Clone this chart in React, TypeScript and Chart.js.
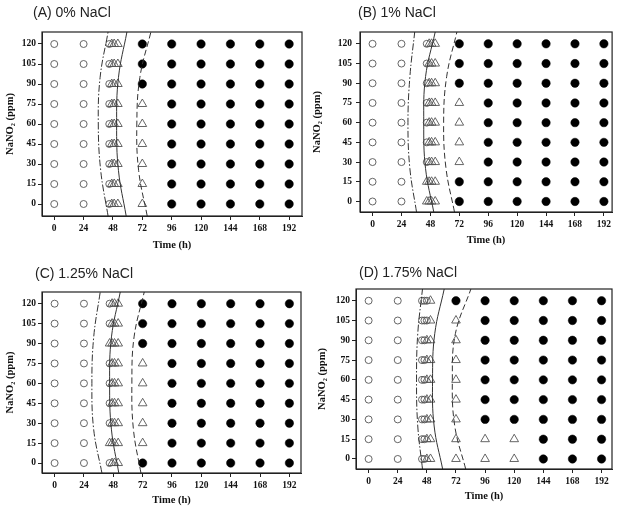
import React, { useEffect, useRef } from "react";
import { Chart, registerables } from "chart.js";

Chart.register(...registerables);

// ---- shared axis values ----
const timeTicks = [0, 24, 48, 72, 96, 120, 144, 168, 192];
const concLevels = [0, 15, 30, 45, 60, 75, 90, 105, 120];

// ---- sampling times (h) per panel ----
const timesA = [0, 24, 45, 47, 49, 52, 72, 96, 120, 144, 168, 192];
const timesB = [0, 24, 45, 47, 49, 52, 72, 96, 120, 144, 168, 192];
const timesC = [0, 24, 45, 47, 49, 52, 72, 96, 120, 144, 168, 192];
const timesD = [0, 24, 44, 46, 48, 51, 72, 96, 120, 144, 168, 192];

// ---- status grids: one string per NaNO2 level (0..120), one char per sampling time
// o = open circle, t = open triangle, f = filled circle
const statusA = [
  "ooottttfffff", "ooottttfffff", "ooottttfffff", "ooottttfffff", "ooottttfffff",
  "ooottttfffff", "oootttffffff", "oootttffffff", "oootttffffff",
];
const statusB = [
  "oottttffffff", "oottttffffff", "ooottttfffff", "ooottttfffff", "ooottttfffff",
  "ooottttfffff", "oootttffffff", "oootttffffff", "oootttffffff",
];
const statusC = [
  "oootttffffff", "ootttttfffff", "ooottttfffff", "ooottttfffff", "ooottttfffff",
  "ooottttfffff", "oottttffffff", "oootttffffff", "oootttffffff",
];
const statusD = [
  "ooootttttfff", "ooootttttfff", "ooootttfffff", "ooootttfffff", "ooootttfffff",
  "ooootttfffff", "ooootttfffff", "ooooottfffff", "oooootffffff",
];

// ---- boundary curves (x in h, at the given NaNO2 levels) ----
const curveYA = [-9, 25, 60, 95, 129];
const dashDotA = [44, 38, 36, 37.5, 44];
const solidA = [58.8, 52.5, 51, 52.5, 59.4];
const dashedA = [76, 69, 67.5, 70, 79];

const curveYB = [-8, 25, 60, 95, 129];
const dashDotB = [36.5, 31, 29.4, 31, 35];
const solidB = [50.8, 44, 42.5, 44, 52];
const dashedB = [68, 61, 59, 61.5, 70];

const curveYC = [-7.5, 25, 60, 95, 128.8];
const dashDotC = [38.7, 32, 30.5, 32, 37.3];
const solidC = [52.5, 46.5, 45, 46.5, 53.7];
const dashedC = [70.6, 64.5, 63.2, 65, 73.3];

const curveYD = [-7.6, 25, 60, 95, 128.9];
const dashDotD = [44.4, 40.5, 39.5, 40.5, 44.4];
const solidD = [61, 54, 52.7, 54.5, 62.3];
const dashedD = [80, 71, 69, 71.5, 84.3];

const titles = ["(A) 0% NaCl", "(B) 1% NaCl", "(C) 1.25% NaCl", "(D) 1.75% NaCl"];

type PanelCfg = {
  title: string;
  titleLeft: number;
  titleTop: number;
  left: number;
  top: number;
  width: number;
  height: number;
  padTop: number;
  padRight: number;
  yWidth: number;
  xHeight: number;
  yTitlePad: number;
  yTickPad: number;
  xMin: number;
  xMax: number;
  yMin: number;
  yMax: number;
  times: number[];
  status: string[];
  curveY: number[];
  dashDot: number[];
  solid: number[];
  dashed: number[];
};

const panels: PanelCfg[] = [
  {
    title: titles[0], titleLeft: 33, titleTop: 4,
    left: 0, top: 0, width: 309, height: 252, padTop: 32, padRight: 7, yWidth: 42, xHeight: 36,
    yTitlePad: 4, yTickPad: 2, xMin: -10, xMax: 202.5, yMin: -9, yMax: 129,
    times: timesA, status: statusA, curveY: curveYA, dashDot: dashDotA, solid: solidA, dashed: dashedA,
  },
  {
    title: titles[1], titleLeft: 358, titleTop: 4,
    left: 309, top: 0, width: 309, height: 247, padTop: 32, padRight: 4, yWidth: 51, xHeight: 35,
    yTitlePad: 2, yTickPad: 4, xMin: -10.4, xMax: 198.8, yMin: -8, yMax: 129,
    times: timesB, status: statusB, curveY: curveYB, dashDot: dashDotB, solid: solidB, dashed: dashedB,
  },
  {
    title: titles[2], titleLeft: 35, titleTop: 265,
    left: 0, top: 255, width: 309, height: 252, padTop: 37, padRight: 8, yWidth: 42, xHeight: 34,
    yTitlePad: 4, yTickPad: 2, xMin: -10.3, xMax: 201.5, yMin: -7.5, yMax: 128.8,
    times: timesC, status: statusC, curveY: curveYC, dashDot: dashDotC, solid: solidC, dashed: dashedC,
  },
  {
    title: titles[3], titleLeft: 359, titleTop: 264,
    left: 309, top: 255, width: 309, height: 248, padTop: 34, padRight: 6, yWidth: 47, xHeight: 34,
    yTitlePad: 7, yTickPad: 2, xMin: -10.4, xMax: 200.6, yMin: -7.6, yMax: 128.9,
    times: timesD, status: statusD, curveY: curveYD, dashDot: dashDotD, solid: solidD, dashed: dashedD,
  },
];

const boxPlugin = {
  id: "boxPlugin",
  afterDatasetsDraw(chart: any) {
    const { ctx, chartArea } = chart;
    ctx.save();
    ctx.strokeStyle = "#222";
    ctx.lineWidth = 1.2;
    ctx.strokeRect(chartArea.left, chartArea.top, chartArea.right - chartArea.left, chartArea.bottom - chartArea.top);
    ctx.restore();
  },
};

const tickFont = { family: "'Liberation Serif', 'Times New Roman', serif", weight: "bold" as const, size: 9.5 };
const titleFont = { family: "'Liberation Serif', 'Times New Roman', serif", weight: "bold" as const, size: 10.5 };

function Panel({ cfg }: { cfg: PanelCfg }) {
  const ref = useRef<HTMLCanvasElement | null>(null);
  useEffect(() => {
    if (!ref.current) return;
    const pts = (code: string) => {
      const out: { x: number; y: number }[] = [];
      cfg.status.forEach((row, ri) => {
        row.split("").forEach((c, ci) => {
          if (c === code) out.push({ x: cfg.times[ci], y: concLevels[ri] });
        });
      });
      return out;
    };
    const curve = (xs: number[]) => xs.map((x, i) => ({ x, y: cfg.curveY[i] }));
    const lineBase = {
      showLine: true,
      pointRadius: 0,
      borderColor: "#333",
      borderWidth: 1,
      tension: 0.4,
      fill: false,
    };
    const chart = new Chart(ref.current, {
      type: "scatter",
      data: {
        datasets: [
          { ...lineBase, data: curve(cfg.dashDot), borderDash: [7, 2, 1.5, 2] } as any,
          { ...lineBase, data: curve(cfg.solid) } as any,
          { ...lineBase, data: curve(cfg.dashed), borderDash: [6, 3] } as any,
          {
            data: pts("o"), pointStyle: "circle", pointRadius: 3.5,
            borderColor: "#555", borderWidth: 0.9, backgroundColor: "rgba(255,255,255,0)",
          },
          {
            data: pts("t"), pointStyle: "triangle", pointRadius: 5,
            borderColor: "#555", borderWidth: 0.9, backgroundColor: "rgba(255,255,255,0)",
          },
          {
            data: pts("f"), pointStyle: "circle", pointRadius: 4.2,
            borderColor: "#000", borderWidth: 0.5, backgroundColor: "#000",
          },
        ],
      },
      options: {
        animation: false,
        responsive: false,
        events: [],
        layout: { padding: { top: cfg.padTop, right: cfg.padRight, left: 0, bottom: 0 } },
        plugins: { legend: { display: false }, tooltip: { enabled: false } },
        scales: {
          x: {
            type: "linear",
            min: cfg.xMin,
            max: cfg.xMax,
            afterFit: (s: any) => { s.height = cfg.xHeight; },
            afterBuildTicks: (s: any) => { s.ticks = timeTicks.map((v) => ({ value: v })); },
            ticks: { font: tickFont, color: "#111", padding: 3, maxRotation: 0, autoSkip: false },
            grid: { display: true, drawOnChartArea: false, drawTicks: true, tickLength: 4, color: "#222" },
            border: { display: true, color: "#222" },
            title: { display: true, text: "Time (h)", font: titleFont, color: "#111", padding: { top: 0, bottom: 0 } },
          },
          y: {
            type: "linear",
            min: cfg.yMin,
            max: cfg.yMax,
            afterFit: (s: any) => { s.width = cfg.yWidth; },
            afterBuildTicks: (s: any) => { s.ticks = concLevels.map((v) => ({ value: v })); },
            ticks: { font: tickFont, color: "#111", padding: cfg.yTickPad, autoSkip: false },
            grid: { display: true, drawOnChartArea: false, drawTicks: true, tickLength: 4, color: "#222" },
            border: { display: true, color: "#222" },
            title: { display: true, text: "NaNO₂ (ppm)", font: titleFont, color: "#111", padding: { top: cfg.yTitlePad, bottom: 0 } },
          },
        },
      } as any,
      plugins: [boxPlugin],
    });
    return () => chart.destroy();
  }, [cfg]);
  return (
    <>
      <canvas
        ref={ref}
        width={cfg.width}
        height={cfg.height}
        style={{ position: "absolute", left: cfg.left, top: cfg.top, width: cfg.width, height: cfg.height }}
      />
      <div
        style={{
          position: "absolute",
          left: cfg.titleLeft,
          top: cfg.titleTop,
          fontFamily: "'Liberation Sans', Arial, sans-serif",
          fontSize: 14,
          lineHeight: "16px",
          color: "#222",
          whiteSpace: "nowrap",
        }}
      >
        {cfg.title}
      </div>
    </>
  );
}

export default function App() {
  return (
    <div style={{ position: "absolute", left: 0, top: 0, width: 618, height: 509, background: "#fff", overflow: "hidden" }}>
      {panels.map((p, i) => (
        <Panel key={i} cfg={p} />
      ))}
    </div>
  );
}
